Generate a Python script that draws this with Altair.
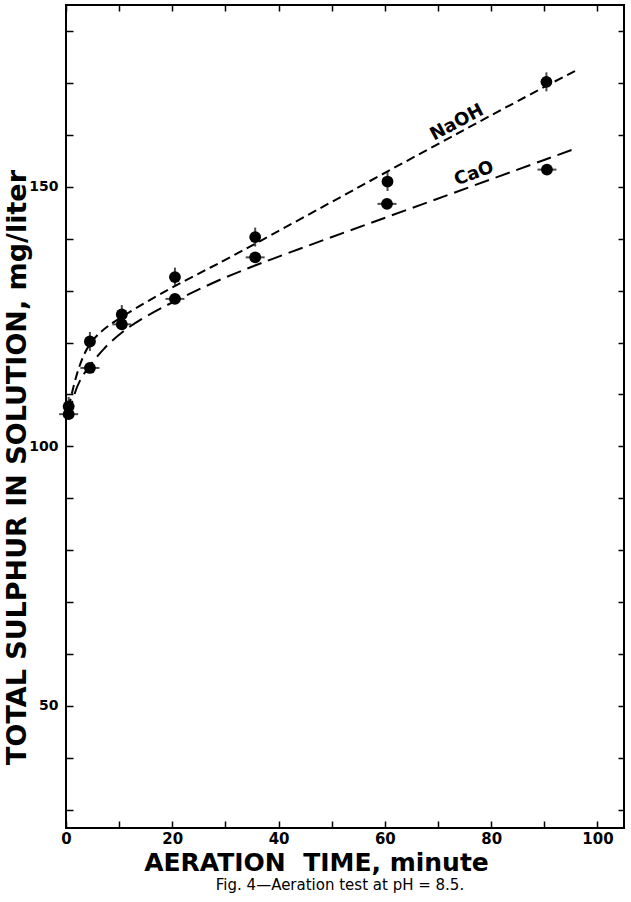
import altair as alt
import pandas as pd

# measured points
naoh_time = [0.5, 4.5, 10.5, 20.5, 35.6, 60.5, 90.4]
naoh_sulphur = [107.7, 120.2, 125.4, 132.6, 140.3, 151.0, 170.2]
cao_time = [0.5, 4.5, 10.5, 20.5, 35.6, 60.4, 90.5]
cao_sulphur = [106.2, 115.1, 123.5, 128.4, 136.4, 146.7, 153.3]

# fitted (dashed) curves
naoh_curve_t = [0.5, 1.5, 2.5, 3.5, 4.5, 6.0, 8.0, 10.6, 15.2, 20.5, 27.1, 32.8, 60.5, 90.4, 96.6]
naoh_curve_y = [107.5, 112.0, 115.5, 118.0, 119.8, 121.6, 123.3, 125.0, 127.9, 130.9, 134.4, 137.4, 153.0, 169.5, 172.7]
cao_curve_t = [0.5, 1.4, 2.6, 4.5, 7.0, 10.6, 15.2, 20.5, 27.1, 35.6, 63.8, 95.2]
cao_curve_y = [106.0, 109.7, 112.9, 115.6, 118.8, 122.2, 125.2, 128.0, 131.3, 135.0, 145.4, 157.1]

# curve labels
label_text = ["NaOH", "CaO"]
label_t = [73.6, 76.8]
label_y = [162.3, 152.5]
label_angle = [332, 340]

x_ticks = list(range(0, 101, 10))
y_ticks = list(range(30, 181, 10))

FONT = "DejaVu Sans"
xs = alt.Scale(domain=[0, 105], nice=False, zero=False)
ys = alt.Scale(domain=[26.5, 185], nice=False, zero=False)

pts_naoh = pd.DataFrame({"t": naoh_time, "s": naoh_sulphur})
pts_cao = pd.DataFrame({"t": cao_time, "s": cao_sulphur})
curve_naoh = pd.DataFrame({"t": naoh_curve_t, "s": naoh_curve_y})
curve_cao = pd.DataFrame({"t": cao_curve_t, "s": cao_curve_y})
labels = pd.DataFrame({"t": label_t, "s": label_y, "txt": label_text, "a": label_angle})

x_axis = alt.Axis(
    values=x_ticks, labelExpr="datum.value % 20 == 0 ? datum.label : ''",
    domain=False, offset=-7, tickSize=7, tickWidth=1.5, tickColor="black",
    grid=False, labelFont=FONT, labelFontSize=15, labelFontWeight="bold",
    labelColor="black", labelPadding=3, labelFlush=False,
    title="AERATION\u00a0\u00a0TIME, minute", titleFont=FONT, titleFontSize=25,
    titleFontWeight="bold", titleColor="black", titleX=250, titleY=49,
    titleBaseline="alphabetic", titleAnchor="middle",
)
y_axis = alt.Axis(
    values=y_ticks, labelExpr="datum.value % 50 == 0 ? datum.label : ''",
    domain=False, offset=-7, tickSize=7, tickWidth=1.5, tickColor="black",
    grid=False, labelFont=FONT, labelFontSize=14, labelFontWeight="bold",
    labelColor="black", labelPadding=8,
    title="TOTAL SULPHUR IN SOLUTION, mg/liter", titleFont=FONT, titleFontSize=27,
    titleFontWeight="bold", titleColor="black", titleAngle=270, titleX=-56, titleY=462,
    titleAlign="center", titleBaseline="middle",
)
x_top = alt.Axis(values=x_ticks, orient="top", labels=False, title=None, domain=False,
                 offset=-6, tickSize=6, tickWidth=1.5, tickColor="black", grid=False)
y_right = alt.Axis(values=y_ticks, orient="right", labels=False, title=None, domain=False,
                   offset=-6, tickSize=6, tickWidth=1.5, tickColor="black", grid=False)

base_pts = alt.Chart(pts_naoh).mark_circle(size=140, color="black", opacity=1).encode(
    x=alt.X("t:Q", scale=xs, axis=x_axis),
    y=alt.Y("s:Q", scale=ys, axis=y_axis),
)
cao_pts = alt.Chart(pts_cao).mark_circle(size=140, color="black", opacity=1).encode(
    x=alt.X("t:Q", scale=xs, axis=x_top),
    y=alt.Y("s:Q", scale=ys, axis=y_right),
)
naoh_err = alt.Chart(pts_naoh).mark_tick(orient="vertical", size=19, thickness=2, color="black").encode(
    x=alt.X("t:Q", scale=xs, axis=None), y=alt.Y("s:Q", scale=ys, axis=None))
cao_err = alt.Chart(pts_cao).mark_tick(orient="horizontal", size=19, thickness=2, color="black").encode(
    x=alt.X("t:Q", scale=xs, axis=None), y=alt.Y("s:Q", scale=ys, axis=None))

line_naoh = alt.Chart(curve_naoh).mark_line(color="black", strokeWidth=2, strokeDash=[9, 5],
                                            interpolate="basis").encode(
    x=alt.X("t:Q", scale=xs, axis=None), y=alt.Y("s:Q", scale=ys, axis=None))
line_cao = alt.Chart(curve_cao).mark_line(color="black", strokeWidth=2, strokeDash=[15, 7],
                                          interpolate="basis").encode(
    x=alt.X("t:Q", scale=xs, axis=None), y=alt.Y("s:Q", scale=ys, axis=None))

txt = alt.Chart(labels).mark_text(font=FONT, fontSize=18, fontWeight="bold", color="black",
                                  align="center", baseline="middle").encode(
    x=alt.X("t:Q", scale=xs, axis=None), y=alt.Y("s:Q", scale=ys, axis=None),
    text="txt:N", angle=alt.Angle("a:Q", scale=None))

caption = alt.Chart(pd.DataFrame({"c": ["Fig. 4\u2014Aeration test at pH = 8.5."]})).mark_text(
    font=FONT, fontSize=15, color="black", align="center", baseline="middle").encode(
    x=alt.value(274), y=alt.value(880), text="c:N")

chart = alt.layer(base_pts, cao_pts, naoh_err, cao_err, line_naoh, line_cao, txt, caption).resolve_axis(
    x="independent", y="independent"
).properties(
    width=558, height=823,
    autosize=alt.AutoSizeParams(type="none"),
    padding={"left": 66, "top": 5, "right": 7, "bottom": 74},
).configure_view(stroke="black", strokeWidth=2)

chart.save("out.html", embed_options={"renderer": "svg", "actions": False})
